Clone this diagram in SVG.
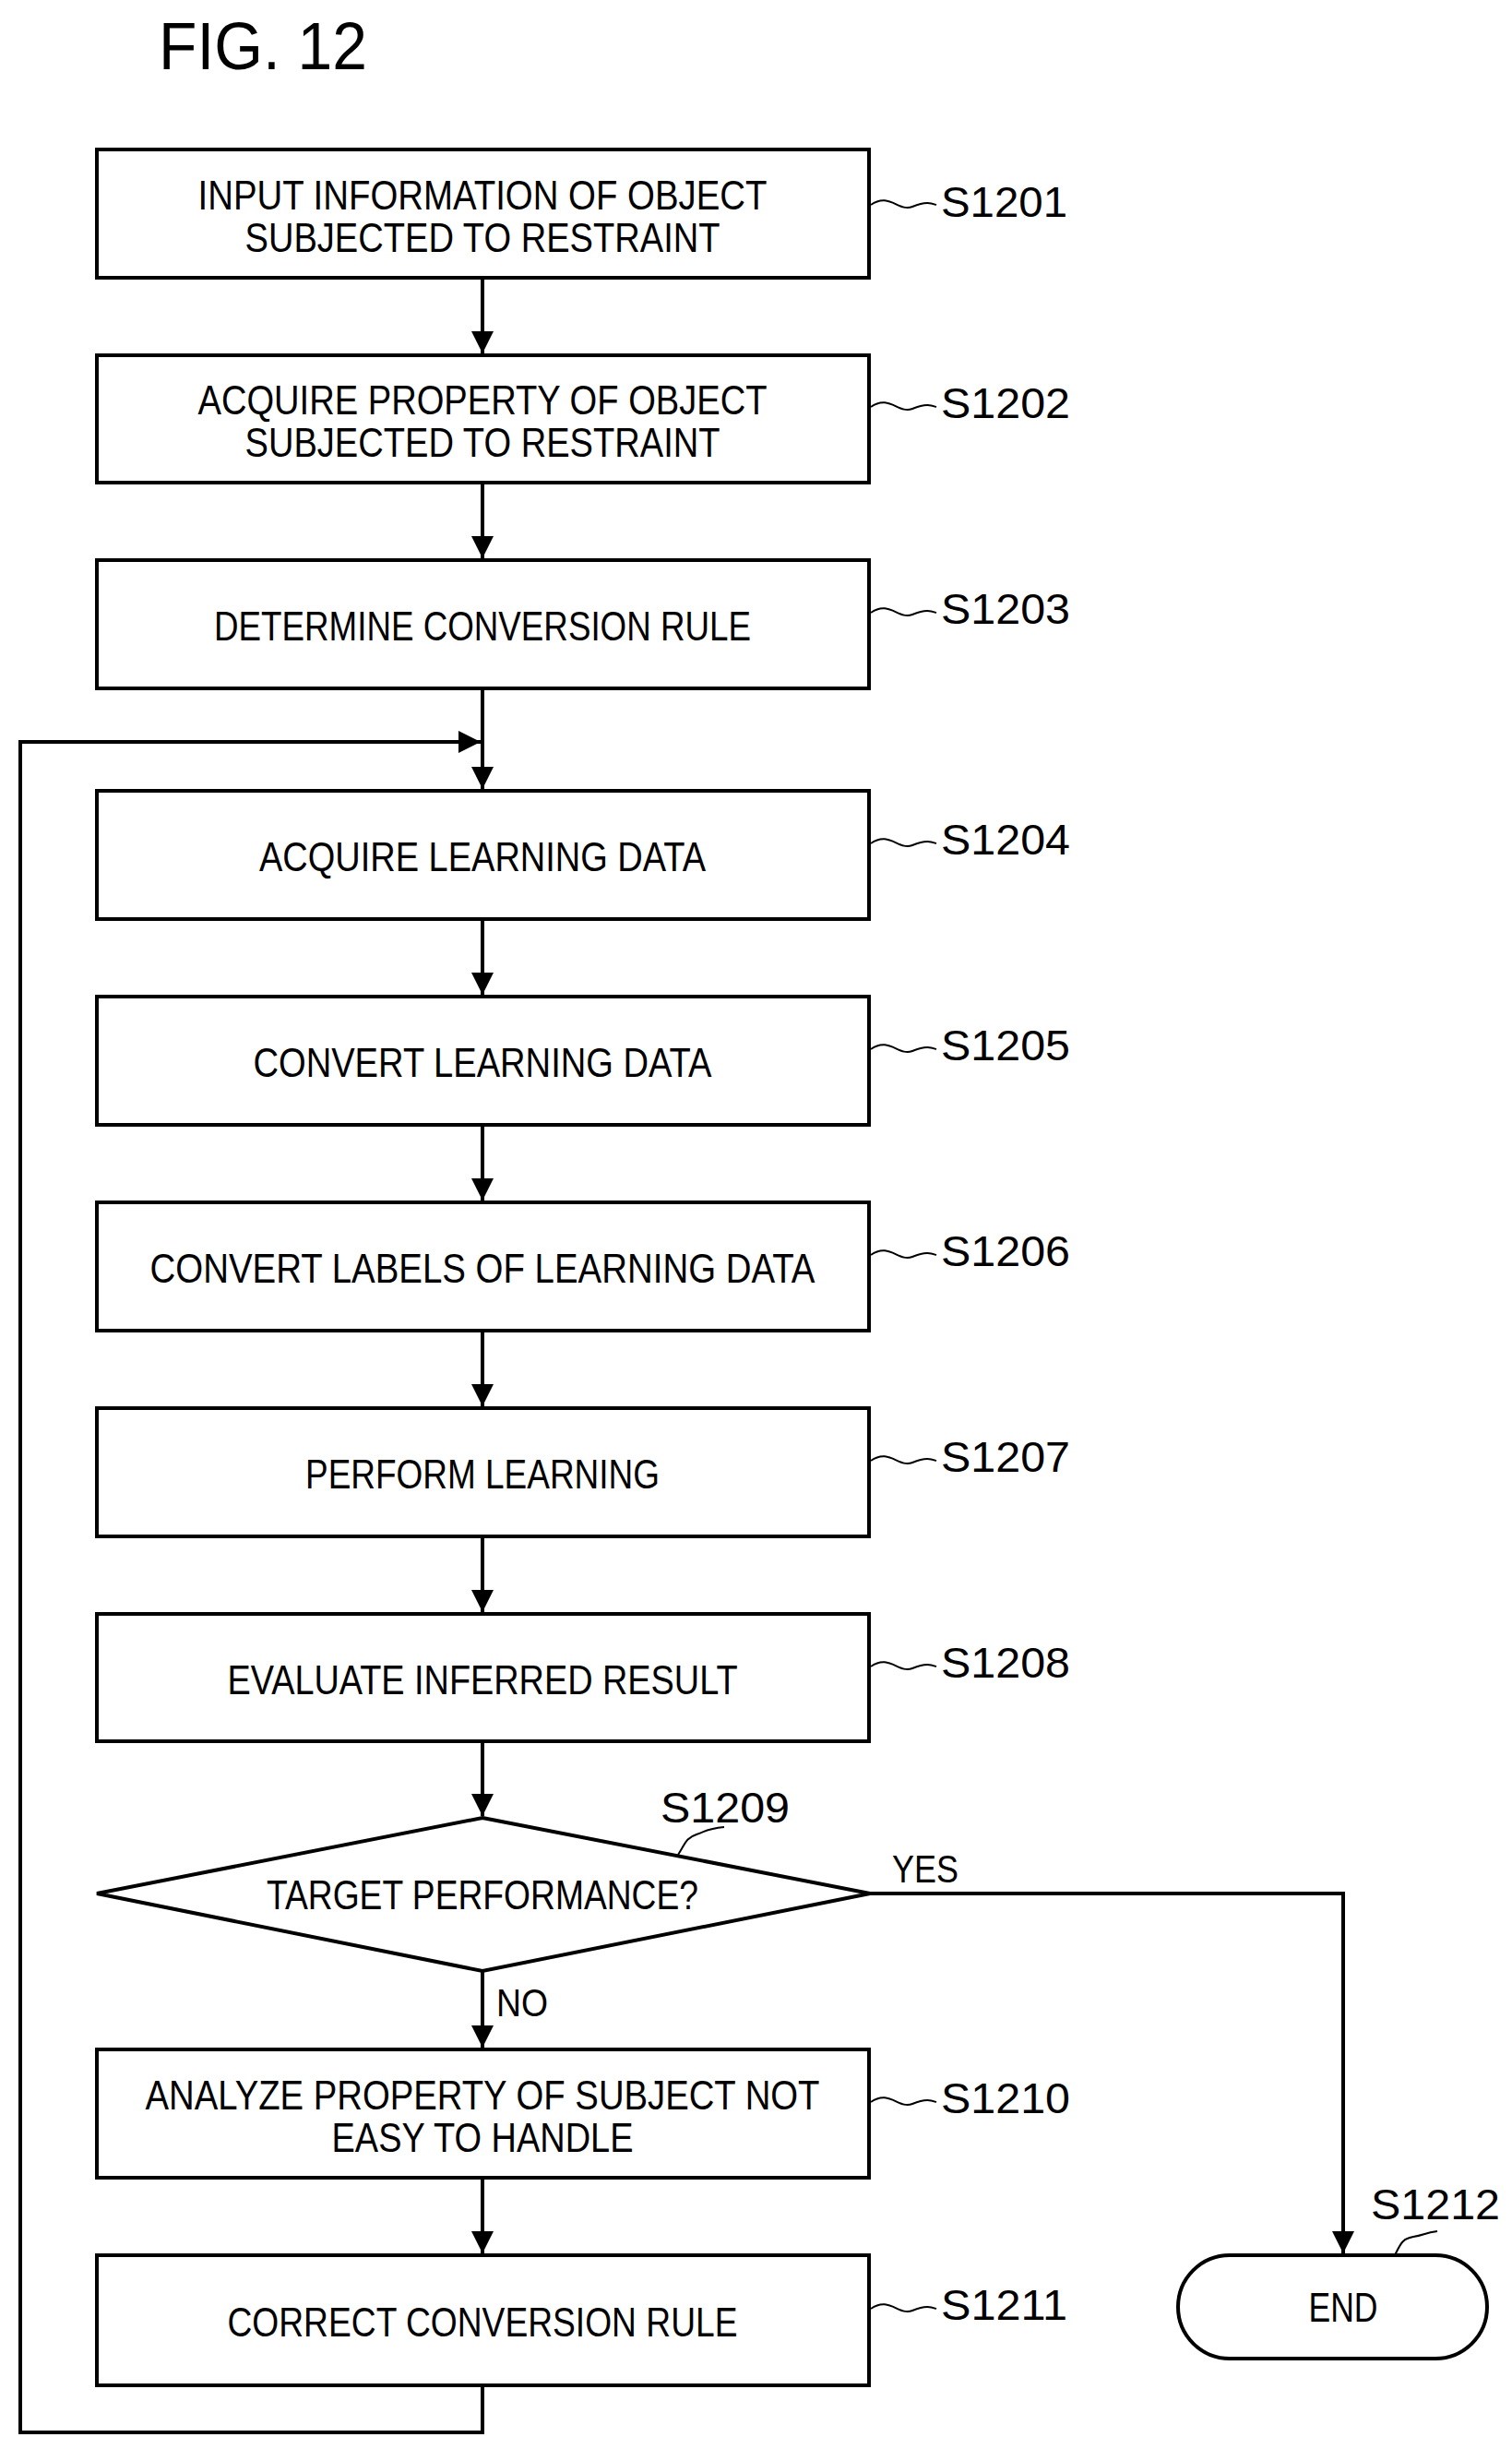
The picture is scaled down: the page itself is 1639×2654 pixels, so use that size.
<svg xmlns="http://www.w3.org/2000/svg" width="1639" height="2654" viewBox="0 0 1639 2654">
<style>
.b{fill:#fff;stroke:#000;stroke-width:4}
.t{font-family:"Liberation Sans",Arial,sans-serif;font-size:44px;text-anchor:middle;fill:#000}
.l{font-family:"Liberation Sans",Arial,sans-serif;font-size:46px;fill:#000}
.c{fill:none;stroke:#000;stroke-width:4}
.s{fill:none;stroke:#000;stroke-width:2}
</style>
<defs><marker id="a" markerUnits="userSpaceOnUse" markerWidth="24" markerHeight="32" refX="24" refY="12" orient="auto"><path d="M0,0 L24,12 L0,24 Z" fill="#000"/></marker></defs>
<rect width="1639" height="2654" fill="#fff"/>
<text x="172" y="75" class="l" style="font-size:72px" textLength="226" lengthAdjust="spacingAndGlyphs">FIG. 12</text>
<g id="connectors">
<path class="c" d="M523 301V383" marker-end="url(#a)"/>
<path class="c" d="M523 523V605" marker-end="url(#a)"/>
<path class="c" d="M523 746V855" marker-end="url(#a)"/>
<path class="c" d="M523 996V1078" marker-end="url(#a)"/>
<path class="c" d="M523 1219V1301" marker-end="url(#a)"/>
<path class="c" d="M523 1442V1524" marker-end="url(#a)"/>
<path class="c" d="M523 1665V1747" marker-end="url(#a)"/>
<path class="c" d="M523 1887V1968" marker-end="url(#a)"/>
<path class="c" d="M523 2136V2219" marker-end="url(#a)"/>
<path class="c" d="M523 2360V2442" marker-end="url(#a)"/>
<path class="c" d="M943 2052H1456V2442" marker-end="url(#a)"/>
<path class="c" d="M523 2585V2636H22V804H521" marker-end="url(#a)"/>
<text x="967" y="2040" class="l" style="font-size:42px" textLength="72" lengthAdjust="spacingAndGlyphs">YES</text>
<text x="538" y="2185" class="l" style="font-size:42px" textLength="56" lengthAdjust="spacingAndGlyphs">NO</text>
</g>
<g id="s1201"><rect class="b" x="105" y="162" width="837" height="139"/>
<text class="t" x="523" y="227" textLength="617" lengthAdjust="spacingAndGlyphs">INPUT INFORMATION OF OBJECT</text>
<text class="t" x="523" y="273" textLength="515" lengthAdjust="spacingAndGlyphs">SUBJECTED TO RESTRAINT</text>
<path class="s" d="M944 222c20-14 30 8 45 2s20-4 26-2"/><text class="l" x="1020" y="235" textLength="137" lengthAdjust="spacingAndGlyphs">S1201</text></g>
<g id="s1202"><rect class="b" x="105" y="385" width="837" height="138"/>
<text class="t" x="523" y="449" textLength="617" lengthAdjust="spacingAndGlyphs">ACQUIRE PROPERTY OF OBJECT</text>
<text class="t" x="523" y="495" textLength="515" lengthAdjust="spacingAndGlyphs">SUBJECTED TO RESTRAINT</text>
<path class="s" d="M944 441c20-14 30 8 45 2s20-4 26-2"/><text class="l" x="1020" y="453" textLength="140" lengthAdjust="spacingAndGlyphs">S1202</text></g>
<g id="s1203"><rect class="b" x="105" y="607" width="837" height="139"/>
<text class="t" x="523" y="694" textLength="582" lengthAdjust="spacingAndGlyphs">DETERMINE CONVERSION RULE</text>
<path class="s" d="M944 664c20-14 30 8 45 2s20-4 26-2"/><text class="l" x="1020" y="676" textLength="140" lengthAdjust="spacingAndGlyphs">S1203</text></g>
<g id="s1204"><rect class="b" x="105" y="857" width="837" height="139"/>
<text class="t" x="523" y="944" textLength="484" lengthAdjust="spacingAndGlyphs">ACQUIRE LEARNING DATA</text>
<path class="s" d="M944 914c20-14 30 8 45 2s20-4 26-2"/><text class="l" x="1020" y="926" textLength="140" lengthAdjust="spacingAndGlyphs">S1204</text></g>
<g id="s1205"><rect class="b" x="105" y="1080" width="837" height="139"/>
<text class="t" x="523" y="1167" textLength="497" lengthAdjust="spacingAndGlyphs">CONVERT LEARNING DATA</text>
<path class="s" d="M944 1137c20-14 30 8 45 2s20-4 26-2"/><text class="l" x="1020" y="1149" textLength="140" lengthAdjust="spacingAndGlyphs">S1205</text></g>
<g id="s1206"><rect class="b" x="105" y="1303" width="837" height="139"/>
<text class="t" x="523" y="1390" textLength="721" lengthAdjust="spacingAndGlyphs">CONVERT LABELS OF LEARNING DATA</text>
<path class="s" d="M944 1360c20-14 30 8 45 2s20-4 26-2"/><text class="l" x="1020" y="1372" textLength="140" lengthAdjust="spacingAndGlyphs">S1206</text></g>
<g id="s1207"><rect class="b" x="105" y="1526" width="837" height="139"/>
<text class="t" x="523" y="1613" textLength="384" lengthAdjust="spacingAndGlyphs">PERFORM LEARNING</text>
<path class="s" d="M944 1583c20-14 30 8 45 2s20-4 26-2"/><text class="l" x="1020" y="1595" textLength="140" lengthAdjust="spacingAndGlyphs">S1207</text></g>
<g id="s1208"><rect class="b" x="105" y="1749" width="837" height="138"/>
<text class="t" x="523" y="1836" textLength="553" lengthAdjust="spacingAndGlyphs">EVALUATE INFERRED RESULT</text>
<path class="s" d="M944 1806c20-14 30 8 45 2s20-4 26-2"/><text class="l" x="1020" y="1818" textLength="140" lengthAdjust="spacingAndGlyphs">S1208</text></g>
<g id="s1209"><polygon class="b" points="523,1970 943,2052 523,2136 105,2052"/>
<text class="t" x="523" y="2069" textLength="468" lengthAdjust="spacingAndGlyphs">TARGET PERFORMANCE?</text>
<path class="s" d="M735 2010c8-12 8-18 20-22s10-6 30-8"/><text class="l" x="716" y="1975" textLength="140" lengthAdjust="spacingAndGlyphs">S1209</text></g>
<g id="s1210"><rect class="b" x="105" y="2221" width="837" height="139"/>
<text class="t" x="523" y="2286" textLength="731" lengthAdjust="spacingAndGlyphs">ANALYZE PROPERTY OF SUBJECT NOT</text>
<text class="t" x="523" y="2332" textLength="327" lengthAdjust="spacingAndGlyphs">EASY TO HANDLE</text>
<path class="s" d="M944 2278c20-14 30 8 45 2s20-4 26-2"/><text class="l" x="1020" y="2290" textLength="140" lengthAdjust="spacingAndGlyphs">S1210</text></g>
<g id="s1211"><rect class="b" x="105" y="2444" width="837" height="141"/>
<text class="t" x="523" y="2532" textLength="553" lengthAdjust="spacingAndGlyphs">CORRECT CONVERSION RULE</text>
<path class="s" d="M944 2502c20-14 30 8 45 2s20-4 26-2"/><text class="l" x="1020" y="2514" textLength="137" lengthAdjust="spacingAndGlyphs">S1211</text></g>
<g id="s1212"><rect class="b" x="1277" y="2444" width="335" height="112" rx="56"/>
<text class="t" x="1456" y="2516" textLength="75" lengthAdjust="spacingAndGlyphs">END</text>
<path class="s" d="M1512 2444c6-12 8-18 20-20s12-4 26-6"/><text class="l" x="1486" y="2405" textLength="140" lengthAdjust="spacingAndGlyphs">S1212</text></g>
</svg>
